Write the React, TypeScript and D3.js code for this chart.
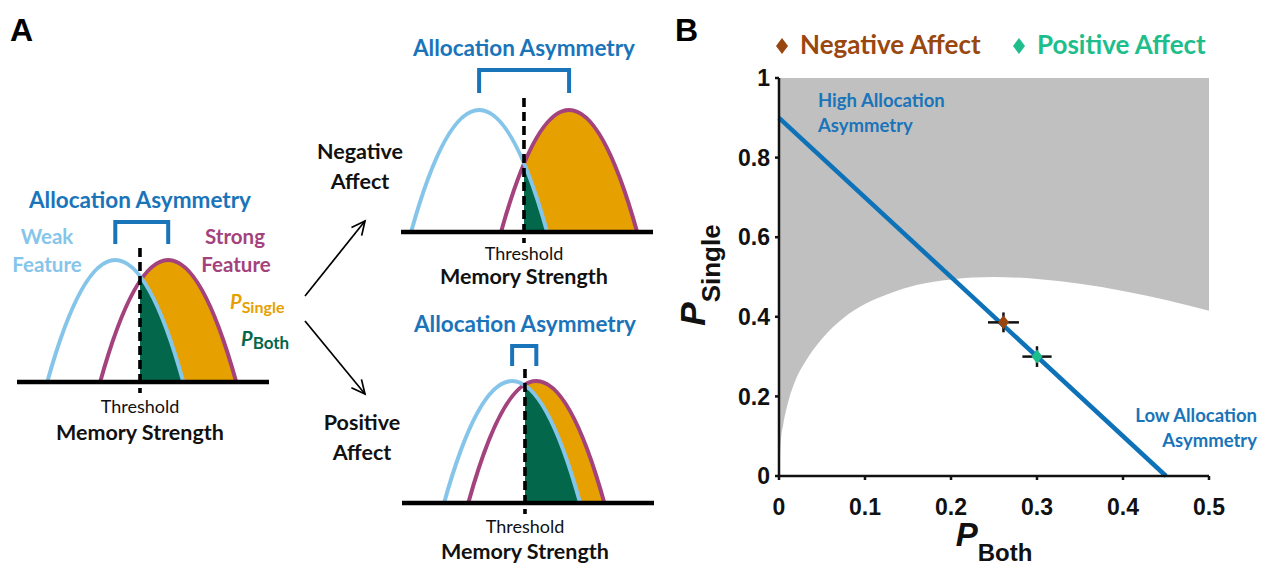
import React from "react";
import * as d3 from "d3";

// panel A: schematic strength distributions, memory strength 0-10 along each baseline
const conditions = ["Baseline", "Negative Affect", "Positive Affect"];
const weakPeak = [3.9, 3.1, 4.37];
const strongPeak = [6.0, 6.67, 5.33];
const spread = [2.7, 2.7, 2.7];
const threshold = 4.88;

// panel B
const xTicks = [0, 0.1, 0.2, 0.3, 0.4, 0.5];
const yTicks = [0, 0.2, 0.4, 0.6, 0.8, 1];
const boundaryBoth = [0, 0.002, 0.005, 0.01, 0.02, 0.03, 0.05, 0.075, 0.1, 0.13, 0.16, 0.2, 0.25, 0.3, 0.35, 0.4, 0.45, 0.5];
const boundarySingle = [0, 0.085, 0.13, 0.18, 0.245, 0.285, 0.345, 0.397, 0.432, 0.46, 0.48, 0.494, 0.5, 0.495, 0.483, 0.465, 0.442, 0.415];
const asymBoth = [0, 0.45];
const asymSingle = [0.9, 0];
const affectNames = ["Negative Affect", "Positive Affect"];
const affectBoth = [0.261, 0.3];
const affectSingle = [0.386, 0.3];
const affectBothErr = [0.018, 0.017];
const affectSingleErr = [0.025, 0.026];

const col = {
  weak: "#86C5EA",
  strong: "#A3427C",
  single: "#E6A000",
  both: "#03674B",
  blue: "#1A74BA",
  line: "#0E72B8",
  gray: "#C0C0C0",
};
const affectColor = ["#9A470F", "#1DBE8B"];
const cal = "Lato, 'Open Sans', sans-serif";
const ari = "'Liberation Sans', Arial, sans-serif";

const layout = [
  { x0: 17, y0: 382, titleY: -174, bTop: -160, bBot: -138, thY: 31, msY: 58 },
  { x0: 401, y0: 232, titleY: -176, bTop: -162, bBot: -139, thY: 28, msY: 52 },
  { x0: 402, y0: 503, titleY: -171, bTop: -157, bBot: -137, thY: 30, msY: 56 },
];

const Diagram = ({ i }) => {
  const L = layout[i];
  const xs = d3.scaleLinear().domain([0, 10]).range([0, 252]);
  const ys = d3.scaleLinear().domain([0, 1]).range([0, -122]);

  function hump(peak, w, close) {
    const p = d3.path();
    p.moveTo(xs(peak - w), ys(0));
    p.quadraticCurveTo(xs(peak), ys(2), xs(peak + w), ys(0));
    if (close) p.closePath();
    return p.toString();
  }

  const tx = xs(threshold);
  const clipId = `right-of-threshold-${i}`;
  return (
    <g transform={`translate(${L.x0},${L.y0})`}>
      <clipPath id={clipId}>
        <rect x={tx} y={-200} width={300} height={200} />
      </clipPath>
      <path d={hump(strongPeak[i], spread[i], true)} fill={col.single} clipPath={`url(#${clipId})`} />
      <path d={hump(weakPeak[i], spread[i], true)} fill={col.both} clipPath={`url(#${clipId})`} />
      <path d={hump(strongPeak[i], spread[i], false)} fill="none" stroke={col.strong} strokeWidth={4} />
      <path d={hump(weakPeak[i], spread[i], false)} fill="none" stroke={col.weak} strokeWidth={4} />
      <line x1={tx} x2={tx} y1={-134} y2={11} stroke="#000" strokeWidth={3.6} strokeDasharray="9 5" />
      <line x1={xs(0)} x2={xs(10)} y1={0} y2={0} stroke="#000" strokeWidth={4.5} />
      <path
        d={`M${xs(weakPeak[i])},${L.bBot}V${L.bTop}H${xs(strongPeak[i])}V${L.bBot}`}
        fill="none"
        stroke={col.blue}
        strokeWidth={4}
      />
      <text x={tx} y={L.titleY} textAnchor="middle" fontFamily={cal} fontWeight="bold" fontSize={22.5} fill={col.blue}>
        Allocation Asymmetry
      </text>
      <text x={tx} y={L.thY} textAnchor="middle" fontFamily={cal} fontSize={18} fill="#111">
        Threshold
      </text>
      <text x={tx} y={L.msY} textAnchor="middle" fontFamily={cal} fontWeight="bold" fontSize={21.5} fill="#111">
        Memory Strength
      </text>
      {i === 0 && (
        <g fontFamily={cal} fontWeight="bold" fontSize={20.5}>
          <text x={30} y={-138} textAnchor="middle" fill={col.weak}>Weak</text>
          <text x={30} y={-110} textAnchor="middle" fill={col.weak}>Feature</text>
          <text x={218} y={-138} textAnchor="middle" fill={col.strong}>Strong</text>
          <text x={219} y={-110} textAnchor="middle" fill={col.strong}>Feature</text>
          <text x={213} y={-73} fill={col.single}>
            <tspan fontStyle="italic" fontSize={20}>P</tspan>
            <tspan fontSize={16} dy={4}>Single</tspan>
          </text>
          <text x={224} y={-36} fill={col.both}>
            <tspan fontStyle="italic" fontSize={20}>P</tspan>
            <tspan fontSize={17} dy={3}>Both</tspan>
          </text>
        </g>
      )}
    </g>
  );
};

const Arrow = ({ x1, y1, x2, y2 }) => {
  const a = Math.atan2(y2 - y1, x2 - x1);
  const len = 15;
  const spreadA = 0.45;
  const h1 = [x2 - len * Math.cos(a - spreadA), y2 - len * Math.sin(a - spreadA)];
  const h2 = [x2 - len * Math.cos(a + spreadA), y2 - len * Math.sin(a + spreadA)];
  return (
    <g stroke="#000" strokeWidth={1.7} fill="none">
      <line x1={x1} y1={y1} x2={x2} y2={y2} />
      <polyline points={`${h1} ${x2},${y2} ${h2}`} />
    </g>
  );
};

const PanelB = () => {
  const x = d3.scaleLinear().domain([0, 0.5]).range([779, 1209]);
  const y = d3.scaleLinear().domain([0, 1]).range([476, 78]);

  const boundary = boundaryBoth.map((b, i) => [b, boundarySingle[i]]);
  const shade = d3
    .area()
    .x((d) => x(d[0]))
    .y0((d) => y(d[1]))
    .y1(() => y(1))
    .curve(d3.curveMonotoneX);

  const asym = d3
    .line()
    .x((d) => x(d[0]))
    .y((d) => y(d[1]));

  const diamond = (cx, cy, w, h) => `M${cx},${cy - h}L${cx + w},${cy}L${cx},${cy + h}L${cx - w},${cy}Z`;

  return (
    <g>
      <path d={shade(boundary)} fill={col.gray} />
      <path d={asym(asymBoth.map((b, i) => [b, asymSingle[i]]))} fill="none" stroke={col.line} strokeWidth={4.5} />

      {affectNames.map((n, i) => (
        <g key={n}>
          <g stroke="#111" strokeWidth={2.5}>
            <line x1={x(affectBoth[i] - affectBothErr[i])} x2={x(affectBoth[i] + affectBothErr[i])} y1={y(affectSingle[i])} y2={y(affectSingle[i])} />
            <line x1={x(affectBoth[i])} x2={x(affectBoth[i])} y1={y(affectSingle[i] - affectSingleErr[i])} y2={y(affectSingle[i] + affectSingleErr[i])} />
          </g>
          <path d={diamond(x(affectBoth[i]), y(affectSingle[i]), 5.5, 7)} fill={affectColor[i]} />
        </g>
      ))}

      {/* axes */}
      <line x1={x(0)} x2={x(0)} y1={y(0)} y2={y(1)} stroke="#111" strokeWidth={2.5} />
      <line x1={x(0)} x2={x(0.5)} y1={y(0)} y2={y(0)} stroke="#111" strokeWidth={2.5} />
      {yTicks.map((t) => (
        <g key={"y" + t}>
          <line x1={x(0) - 4} x2={x(0)} y1={y(t)} y2={y(t)} stroke="#111" strokeWidth={2.5} />
          <text x={x(0) - 9} y={y(t)} dy="0.36em" textAnchor="end" fontFamily={ari} fontWeight="bold" fontSize={23} fill="#111">
            {t}
          </text>
        </g>
      ))}
      {xTicks.map((t) => (
        <g key={"x" + t}>
          <line x1={x(t)} x2={x(t)} y1={y(0)} y2={y(0) + 4} stroke="#111" strokeWidth={2.5} />
          <text x={x(t)} y={515} textAnchor="middle" fontFamily={ari} fontWeight="bold" fontSize={23} fill="#111">
            {t}
          </text>
        </g>
      ))}
      <text x={x(0.25)} y={546} textAnchor="middle" fontFamily={ari} fontWeight="bold" fill="#111">
        <tspan fontStyle="italic" fontSize={33}>P</tspan>
        <tspan fontSize={24} dy={15}>Both</tspan>
      </text>
      <text transform={`translate(705,${y(0.5) - 2}) rotate(-90)`} textAnchor="middle" fontFamily={ari} fontWeight="bold" fill="#111">
        <tspan fontStyle="italic" fontSize={35}>P</tspan>
        <tspan fontSize={26} dy={15}>Single</tspan>
      </text>

      <g fontFamily={cal} fontWeight="bold" fontSize={18.5} fill={col.blue}>
        <text x={818} y={107}>High Allocation</text>
        <text x={818} y={132}>Asymmetry</text>
        <text x={1257} y={422} textAnchor="end">Low Allocation</text>
        <text x={1257} y={447} textAnchor="end">Asymmetry</text>
      </g>

      {/* legend */}
      {affectNames.map((n, i) => {
        const lx = [782, 1019][i];
        return (
          <g key={"lg" + n}>
            <path d={diamond(lx, 46, 6, 8)} fill={affectColor[i]} />
            <text x={lx + 18} y={54} fontFamily={cal} fontWeight="bold" fontSize={26} fill={affectColor[i]}>
              {n}
            </text>
          </g>
        );
      })}
    </g>
  );
};

export default function App() {
  return (
    <svg width={1261} height={567} style={{ position: "absolute", left: 0, top: 0, background: "#fff" }}>
      <rect width={1261} height={567} fill="#fff" />
      <text x={10} y={41} fontFamily={ari} fontWeight="bold" fontSize={32} fill="#000">A</text>
      <text x={675} y={41} fontFamily={ari} fontWeight="bold" fontSize={32} fill="#000">B</text>

      {conditions.map((c, i) => (
        <Diagram key={c} i={i} />
      ))}

      <g fontFamily={cal} fontWeight="bold" fontSize={21.5} fill="#111" textAnchor="middle">
        <text x={360} y={159}>Negative</text>
        <text x={360} y={189}>Affect</text>
        <text x={362} y={430}>Positive</text>
        <text x={362} y={460}>Affect</text>
      </g>
      <Arrow x1={305} y1={296} x2={365} y2={221} />
      <Arrow x1={305} y1={321} x2={365} y2={394} />

      <PanelB />
    </svg>
  );
}
